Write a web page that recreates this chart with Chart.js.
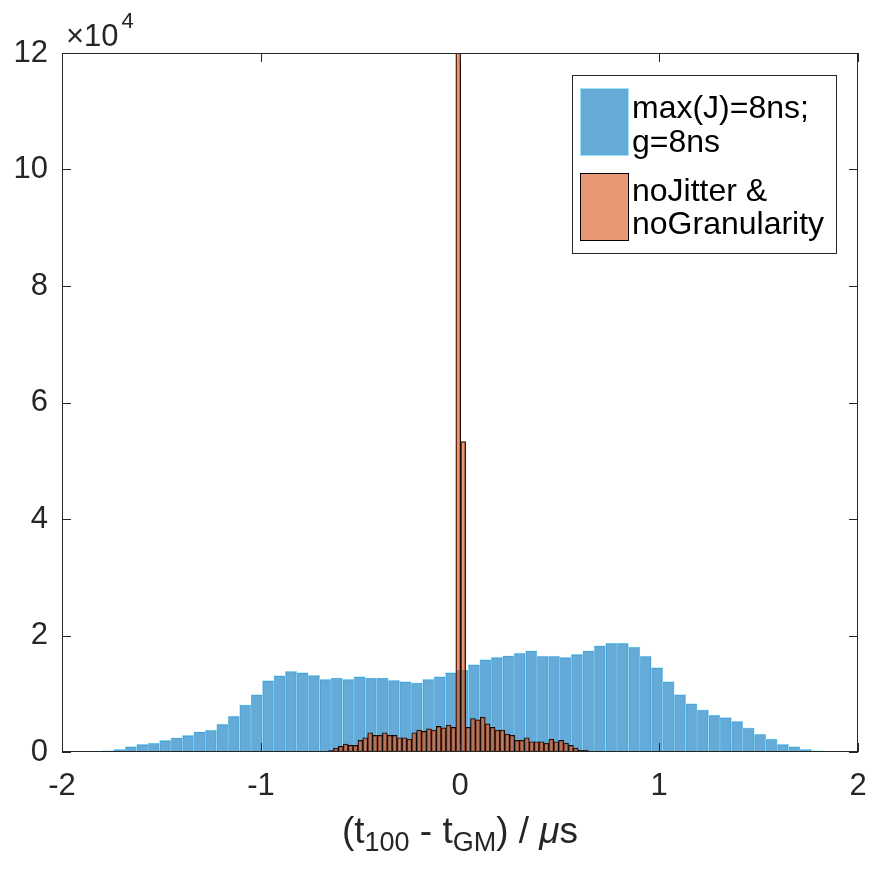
<!DOCTYPE html>
<html>
<head>
<meta charset="utf-8">
<script src="https://cdn.jsdelivr.net/npm/chart.js@4.4.0/dist/chart.umd.min.js"></script>
<style>
  html, body { margin: 0; padding: 0; background: #fff; }
</style>
</head>
<body>
<canvas id="myChart" width="869" height="873"></canvas>
<script>
// histogram 1: max(J)=8ns; g=8ns  (counts per bin)
var blueFirstEdge = -1.9699;
var blueBinWidth = 0.05748;
var blueCounts = [15, 40, 110,
  230, 456, 912, 1311, 1539, 1995, 2451, 2850, 3477, 3762, 4788, 6156, 8094, 9861, 12255, 13110,
  13851, 13623, 13167, 12483, 12711, 12483, 12939, 12711, 12711, 12312, 12084, 11856, 12483, 12939, 13623, 14079,
  14991, 15846, 16245, 16530, 16986, 17385, 16473, 16473, 16245, 16758, 17385, 18240, 18696, 18696, 18012, 16473,
  14478, 12084, 9861, 8322, 7239, 6327, 5928, 5244, 4161, 3078, 2223, 1311, 912, 456, 228,
  90, 30];

// histogram 2: noJitter & noGranularity
var orangeFirstEdge = -0.6605;
var orangeBinWidth = 0.0246;
var orangeCounts = [228, 684, 969, 1368, 1140, 1140, 1995, 2451, 3306, 2850, 2850, 3306, 2850, 2850, 2451, 2451,
  2223, 3306, 3762, 3534, 3990, 3762, 4389, 4161, 4617, 4218,
  210000, 53300,
  4218, 5757, 5529, 5985, 4845, 4218, 3762, 3762, 3078, 2850, 1995, 1995, 2451, 1767, 1767, 1767, 1539, 2223,
  1767, 1995, 1539, 1140, 684, 285, 285];

var seriesLabels = [['max(J)=8ns;', 'g=8ns'], ['noJitter &', 'noGranularity']];
var xTicks = [-2, -1, 0, 1, 2];
var yTicks = [0, 20000, 40000, 60000, 80000, 100000, 120000];
var yExponent = 4;
var xTitleParts = [['(t', 'n'], ['100', 'sub'], [' - t', 'n'], ['GM', 'sub'], [') / ', 'n'], ['\u03bc', 'it'], ['s', 'n']];

var FONT = "'Liberation Sans', Arial, sans-serif";
var blueFill = 'rgba(0,114,189,0.6)';
var blueEdge = 'rgb(160,226,250)';
var orangeFill = 'rgba(217,83,25,0.6)';
var orangeEdge = '#000';
var axisColor = '#262626';

function toPoints(firstEdge, width, counts) {
  return counts.map(function (c, i) {
    return { x: firstEdge + (i + 0.5) * width, y: c };
  });
}

var framePlugin = {
  id: 'frame',
  afterDatasetsDraw: function (chart) {
    var ctx = chart.ctx, a = chart.chartArea;
    var xs = chart.scales.x, ys = chart.scales.y;
    var tl = 9;
    ctx.save();
    ctx.strokeStyle = axisColor;
    ctx.lineWidth = 1;
    ctx.strokeRect(a.left + 0.5, a.top + 0.5, a.right - a.left - 1, a.bottom - a.top - 1);
    ctx.beginPath();
    xTicks.forEach(function (v) {
      var px = Math.round(xs.getPixelForValue(v)) + 0.5;
      ctx.moveTo(px, a.bottom); ctx.lineTo(px, a.bottom - tl);
      ctx.moveTo(px, a.top); ctx.lineTo(px, a.top + tl);
    });
    yTicks.forEach(function (v) {
      var py = Math.round(ys.getPixelForValue(v)) + 0.5;
      ctx.moveTo(a.left, py); ctx.lineTo(a.left + tl, py);
      ctx.moveTo(a.right, py); ctx.lineTo(a.right - tl, py);
    });
    ctx.stroke();

    // exponent label
    ctx.fillStyle = axisColor;
    ctx.textBaseline = 'alphabetic';
    ctx.textAlign = 'left';
    ctx.font = '31px ' + FONT;
    ctx.fillText('\u00d710', 66, 46);
    var w = ctx.measureText('\u00d710').width;
    ctx.font = '22px ' + FONT;
    ctx.fillText(String(yExponent), 66 + w + 3, 28);
    ctx.restore();
  },
  afterDraw: function (chart) {
    var ctx = chart.ctx, a = chart.chartArea;
    ctx.save();
    // x axis title with subscripts
    var cx = (a.left + a.right) / 2, base = 843;
    var fonts = { n: '37px ' + FONT, sub: '27px ' + FONT, it: 'italic 37px ' + FONT };
    var total = 0;
    xTitleParts.forEach(function (p) { ctx.font = fonts[p[1]]; total += ctx.measureText(p[0]).width; });
    var x = cx - total / 2;
    ctx.fillStyle = axisColor;
    ctx.textAlign = 'left';
    ctx.textBaseline = 'alphabetic';
    xTitleParts.forEach(function (p) {
      ctx.font = fonts[p[1]];
      ctx.fillText(p[0], x, p[1] === 'sub' ? base + 8 : base);
      x += ctx.measureText(p[0]).width;
    });

    // legend
    var bx = 572, by = 75, bw = 264, bh = 178;
    ctx.fillStyle = '#fff';
    ctx.fillRect(bx, by, bw, bh);
    ctx.strokeStyle = axisColor;
    ctx.lineWidth = 1;
    ctx.strokeRect(bx + 0.5, by + 0.5, bw, bh);
    var ds = chart.data.datasets;
    var rows = [{ y: 88, base: [118, 152] }, { y: 173, base: [201, 234] }];
    ds.forEach(function (d, i) {
      var r = rows[i];
      ctx.fillStyle = '#fff';
      ctx.fillRect(580, r.y, 49, 68);
      ctx.fillStyle = d.backgroundColor;
      ctx.fillRect(580, r.y, 49, 68);
      ctx.strokeStyle = d.borderColor;
      ctx.lineWidth = 1;
      ctx.strokeRect(580.5, r.y + 0.5, 48, 67);
      ctx.fillStyle = '#000';
      ctx.font = '32px ' + FONT;
      seriesLabels[i].forEach(function (t, k) { ctx.fillText(t, 632, r.base[k]); });
    });
    ctx.restore();
  }
};

var ctx = document.getElementById('myChart').getContext('2d');
var myChart = new Chart(ctx, {
  type: 'bar',
  data: {
    datasets: [{
      label: seriesLabels[0].join(' '),
      data: toPoints(blueFirstEdge, blueBinWidth, blueCounts),
      xAxisID: 'x',
      backgroundColor: blueFill,
      borderColor: blueEdge,
      borderWidth: 0.7,
      borderSkipped: false,
      order: 2,
      clip: 0
    }, {
      label: seriesLabels[1].join(' '),
      data: toPoints(orangeFirstEdge, orangeBinWidth, orangeCounts),
      xAxisID: 'x2',
      backgroundColor: orangeFill,
      borderColor: orangeEdge,
      borderWidth: 0.8,
      borderSkipped: false,
      order: 1,
      clip: 0
    }]
  },
  options: {
    responsive: false,
    animation: false,
    events: [],
    barPercentage: 1,
    categoryPercentage: 1,
    grouped: false,
    layout: { padding: { top: 53, right: 11, left: 0, bottom: 0 } },
    plugins: { legend: { display: false }, tooltip: { enabled: false } },
    scales: {
      x: {
        type: 'linear', min: -2, max: 2, offset: false,
        afterFit: function (s) { s.height = 121; s.paddingLeft = 0; s.paddingRight = 0; },
        grid: { display: false, drawTicks: false },
        border: { display: false },
        afterBuildTicks: function (s) { s.ticks = xTicks.map(function (v) { return { value: v }; }); },
        ticks: { color: axisColor, font: { size: 31, family: FONT }, padding: 16, maxRotation: 0, autoSkip: false }
      },
      x2: {
        type: 'linear', min: -2, max: 2, offset: false, display: false
      },
      y: {
        min: 0, max: 120000,
        afterFit: function (s) { s.width = 62; s.paddingTop = 0; s.paddingBottom = 0; },
        grid: { display: false, drawTicks: false },
        border: { display: false },
        afterBuildTicks: function (s) { s.ticks = yTicks.map(function (v) { return { value: v }; }); },
        ticks: {
          color: axisColor, font: { size: 31, family: FONT }, padding: 14,
          callback: function (v) { return String(v / Math.pow(10, yExponent)); }
        }
      }
    }
  },
  plugins: [framePlugin]
});
</script>
</body>
</html>
